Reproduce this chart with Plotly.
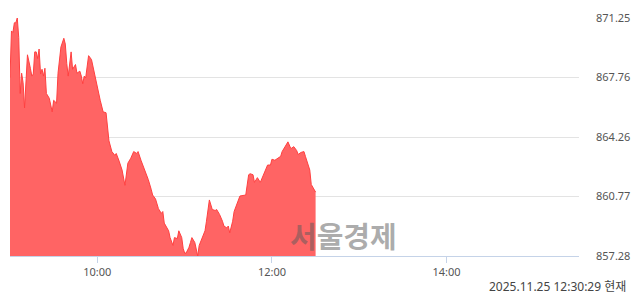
import plotly.graph_objects as go

DATE = "2025-11-25"
times = ["09:00","09:01","09:02","09:03","09:04","09:05","09:06","09:07","09:08","09:09",
         "09:10","09:11","09:12","09:14","09:15","09:16","09:17","09:18","09:19","09:20",
         "09:21","09:22","09:23","09:24","09:25","09:27","09:29","09:30","09:32","09:33",
         "09:35","09:37","09:38","09:39","09:40","09:42","09:43","09:45","09:46","09:48",
         "09:49","09:50","09:51","09:52","09:54","09:56","09:58","10:00","10:02","10:04",
         "10:06","10:08","10:10","10:12","10:13","10:15","10:17","10:19","10:21","10:23",
         "10:25","10:27","10:28","10:30","10:32","10:33","10:35","10:37","10:38","10:40",
         "10:42","10:44","10:45","10:46","10:48","10:49","10:50","10:52","10:53","10:55",
         "10:56","10:58","10:59","11:00","11:01","11:03","11:04","11:05","11:07","11:08",
         "11:09","11:10","11:12","11:13","11:14","11:15","11:17","11:19","11:21","11:22",
         "11:24","11:26","11:27","11:29","11:30","11:31","11:33","11:34","11:36","11:38",
         "11:42","11:44","11:45","11:47","11:48","11:50","11:52","11:54","11:55","11:57",
         "11:59","12:00","12:02","12:04","12:06","12:07","12:09","12:11","12:13","12:15",
         "12:17","12:18","12:20","12:22","12:23","12:25","12:26","12:27","12:30"]
values = [867.75,870.49,870.40,870.97,870.97,871.25,870.11,866.82,868.01,867.45,
          865.97,867.45,869.09,868.30,867.84,867.96,869.26,869.26,868.87,869.43,
          867.96,868.24,867.84,868.30,866.82,866.54,865.74,866.42,866.25,868.01,
          869.55,870.06,869.72,868.58,867.84,869.26,868.24,868.52,868.01,868.13,
          867.84,867.39,867.84,867.73,869.04,868.81,868.01,867.10,866.42,865.74,
          865.69,864.04,863.41,863.19,863.30,862.85,862.33,861.43,862.73,863.02,
          863.41,863.30,863.41,862.90,862.45,862.33,861.77,861.20,860.86,860.63,
          860.06,859.78,859.89,859.21,858.87,858.76,858.36,857.90,858.36,858.30,
          858.76,858.36,857.73,857.45,857.45,857.79,858.07,858.36,858.07,857.73,
          857.28,857.90,858.36,858.64,858.76,859.32,860.57,860.01,859.95,860.01,
          859.72,859.32,859.04,858.93,859.04,858.64,859.32,859.89,860.35,860.80,
          860.86,862.05,862.11,862.05,861.60,861.88,861.60,861.99,862.16,862.62,
          862.62,862.96,862.90,863.02,863.13,863.41,863.70,863.98,863.58,863.70,
          863.47,863.24,863.36,863.41,863.13,862.62,862.33,861.48,861.03]

y_ticks = [857.28, 860.77, 864.26, 867.76, 871.25]
x_tick_labels = ["10:00", "12:00", "14:00"]
stamp = "2025.11.25 12:30:29 현재"
watermark = "서울경제"

x = [f"{DATE} {t}" for t in times]
x_ticks = [f"{DATE} {t}" for t in x_tick_labels]

fig = go.Figure()
fig.add_trace(go.Scatter(
    x=x, y=values, mode="lines", fill="tozeroy",
    line=dict(color="#ff4040", width=1),
    fillcolor="#ff6464", hoverinfo="skip", showlegend=False,
))

font_family = "Noto Sans, Noto Sans CJK KR, sans-serif"
fig.update_layout(
    width=640, height=294,
    margin=dict(l=10, r=58, t=10, b=38),
    paper_bgcolor="white", plot_bgcolor="white",
    font=dict(family=font_family, size=11, color="#555555"),
    xaxis=dict(
        type="date",
        range=[f"{DATE} 09:00", f"{DATE} 15:31"],
        tickvals=x_ticks, ticktext=x_tick_labels,
        showgrid=False, zeroline=False,
        showline=True, linecolor="#c5d3e8", linewidth=1,
        ticks="outside", ticklen=6, tickcolor="#c5d3e8",
        tickfont=dict(size=11, color="#555555"),
    ),
    yaxis=dict(
        range=[y_ticks[0], y_ticks[-1]],
        tickvals=y_ticks, ticktext=[f"{v:.2f}" for v in y_ticks],
        side="right", showgrid=True, gridcolor="#e3e3e3", gridwidth=1,
        zeroline=False, showline=False, ticks="",
        ticklabelstandoff=16,
        tickfont=dict(size=11, color="#555555"),
    ),
)

fig.add_annotation(
    text=f"<b>{watermark}</b>", xref="paper", yref="paper",
    x=0.586, y=0.09, xanchor="center", yanchor="middle", showarrow=False,
    font=dict(size=29, color="rgba(90,90,90,0.5)", family="Noto Sans CJK KR"),
)
fig.add_annotation(
    text=stamp, xref="paper", yref="paper",
    x=1.0, xshift=48, y=0, yshift=-30, xanchor="right", yanchor="middle",
    showarrow=False, borderpad=0,
    font=dict(size=12, color="#444444", family=font_family),
)

fig.write_html("out.html")
